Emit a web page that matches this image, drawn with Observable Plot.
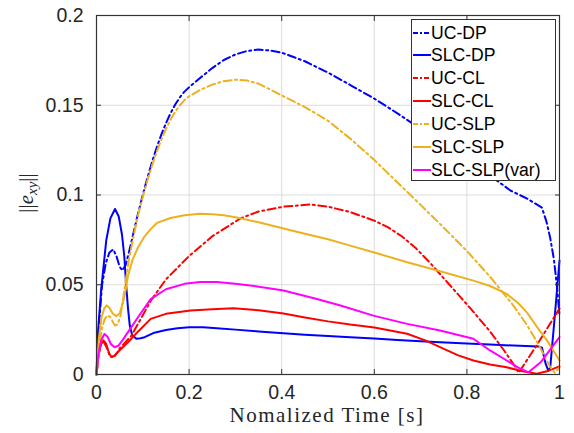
<!DOCTYPE html>
<html><head><meta charset="utf-8">
<script src="https://cdn.jsdelivr.net/npm/d3@7"></script>
<script src="https://cdn.jsdelivr.net/npm/@observablehq/plot@0.6"></script>
<style>
body{margin:0;background:#fff;}
#wrap{position:relative;width:574px;height:433px;}
#legend{position:absolute;left:411px;top:19px;width:145px;height:162px;border:1px solid #333;background:#fff;box-sizing:border-box;font-family:"Liberation Sans",Arial,sans-serif;font-size:17.6px;color:#000;}
.row{position:absolute;left:0;height:20px;line-height:20px;white-space:nowrap;}
.row svg{position:absolute;left:1px;top:0;}
.row span{position:absolute;left:19px;top:0;}
</style></head><body><div id="wrap"></div>
<script>
const seriesNames = ["UC-DP","SLC-DP","UC-CL","SLC-CL","UC-SLP","SLC-SLP","SLC-SLP(var)"];
const seriesColors = ["#0000ff","#0000ff","#ff0000","#ff0000","#edb120","#edb120","#ff00ff"];
const seriesDashed = [true,false,true,false,true,false,false];
const xTicks = [0,0.2,0.4,0.6,0.8,1];
const xTickLabels = ["0","0.2","0.4","0.6","0.8","1"];
const yTicks = [0,0.05,0.1,0.15,0.2];
const yTickLabels = ["0","0.05","0.1","0.15","0.2"];
const xLabel = "Nomalized Time [s]";

const ucDP = [[0,0],[0.006,0.03],[0.012,0.05],[0.02,0.062],[0.028,0.068],[0.036,0.0697],[0.043,0.066],[0.05,0.06],[0.056,0.058],[0.063,0.061],[0.07,0.068],[0.08,0.079],[0.09,0.09],[0.1,0.1],[0.11,0.1096],[0.12,0.1184],[0.13,0.1264],[0.14,0.1336],[0.15,0.14],[0.16,0.1456],[0.17,0.1504],[0.18,0.1544],[0.19,0.1576],[0.2,0.16],[0.225,0.1655],[0.25,0.1707],[0.275,0.1752],[0.3,0.1783],[0.325,0.1802],[0.35,0.181],[0.375,0.1805],[0.4,0.1793],[0.45,0.1745],[0.5,0.1682],[0.55,0.161],[0.6,0.1537],[0.65,0.1455],[0.7,0.1368],[0.75,0.128],[0.8,0.119],[0.865,0.108],[0.894,0.1025],[0.93,0.098],[0.962,0.093],[0.972,0.085],[0.98,0.076],[0.988,0.064],[0.995,0.048],[1.0,0.033]];
const slcDP = [[0,0],[0.003,0.023],[0.01,0.047],[0.021,0.0746],[0.03,0.087],[0.04,0.0922],[0.048,0.088],[0.055,0.078],[0.06,0.066],[0.064,0.05],[0.068,0.037],[0.072,0.027],[0.077,0.022],[0.086,0.0199],[0.095,0.0202],[0.104,0.0208],[0.125,0.0233],[0.15,0.0248],[0.175,0.0258],[0.2,0.0263],[0.23,0.0263],[0.26,0.0258],[0.3,0.025],[0.35,0.024],[0.404,0.023],[0.45,0.0222],[0.5,0.0214],[0.548,0.0208],[0.6,0.02],[0.65,0.0192],[0.7,0.0185],[0.742,0.018],[0.8,0.0173],[0.85,0.0167],[0.9,0.0161],[0.955,0.0156],[0.962,0.015],[0.97,0.006],[0.976,0.002],[0.98,0.004],[0.99,0.033],[1.0,0.0635]];
const ucCL = [[0,0],[0.005,0.012],[0.01,0.017],[0.016,0.018],[0.022,0.015],[0.028,0.011],[0.034,0.0098],[0.04,0.0105],[0.05,0.0145],[0.075,0.0215],[0.1,0.033],[0.117,0.041],[0.15,0.053],[0.2,0.066],[0.25,0.077],[0.311,0.087],[0.35,0.0908],[0.404,0.0935],[0.462,0.0947],[0.5,0.0935],[0.548,0.0905],[0.6,0.0857],[0.63,0.082],[0.66,0.0769],[0.69,0.0703],[0.72,0.0623],[0.76,0.0507],[0.8,0.0391],[0.85,0.024],[0.88,0.0135],[0.9,0.006],[0.912,0.001],[0.95,0.016],[1.0,0.0367]];
const slcCL = [[0,0],[0.004,0.01],[0.009,0.0165],[0.015,0.019],[0.021,0.017],[0.027,0.012],[0.032,0.0097],[0.039,0.0105],[0.05,0.0135],[0.068,0.018],[0.09,0.024],[0.117,0.031],[0.15,0.0338],[0.203,0.0356],[0.25,0.0364],[0.296,0.0369],[0.35,0.0358],[0.404,0.034],[0.45,0.0318],[0.5,0.0296],[0.548,0.0278],[0.6,0.0262],[0.671,0.0227],[0.71,0.019],[0.742,0.0152],[0.78,0.0108],[0.814,0.0078],[0.85,0.0056],[0.886,0.004],[0.92,0.0018],[0.951,0.0004],[0.975,0.002],[1.0,0.0045]];
const ucSLP = [[0,0],[0.006,0.015],[0.012,0.026],[0.018,0.031],[0.024,0.033],[0.03,0.032],[0.036,0.029],[0.04,0.0273],[0.046,0.028],[0.052,0.033],[0.058,0.043],[0.064,0.054],[0.07,0.064],[0.08,0.077],[0.09,0.089],[0.1,0.099],[0.11,0.1081],[0.12,0.1164],[0.13,0.124],[0.14,0.1308],[0.15,0.1368],[0.16,0.142],[0.17,0.1464],[0.18,0.15],[0.19,0.1529],[0.2,0.155],[0.225,0.1587],[0.25,0.1615],[0.275,0.1634],[0.3,0.1642],[0.325,0.1638],[0.35,0.162],[0.4,0.1555],[0.45,0.149],[0.5,0.1414],[0.55,0.131],[0.6,0.1195],[0.66,0.1045],[0.7,0.0945],[0.75,0.0818],[0.8,0.0688],[0.85,0.0545],[0.9,0.0385],[0.93,0.0275],[0.955,0.0165],[0.97,0.009],[0.98,0.004],[0.99,0.001],[1.0,0.004]];
const slcSLP = [[0,0],[0.005,0.02],[0.011,0.032],[0.017,0.037],[0.022,0.0385],[0.028,0.037],[0.035,0.034],[0.0425,0.0325],[0.05,0.034],[0.057,0.04],[0.063,0.047],[0.068,0.055],[0.078,0.064],[0.09,0.071],[0.104,0.077],[0.117,0.081],[0.131,0.0845],[0.16,0.0872],[0.19,0.0887],[0.224,0.0895],[0.25,0.0893],[0.275,0.0887],[0.3,0.0876],[0.35,0.0848],[0.404,0.0813],[0.45,0.0784],[0.5,0.0753],[0.548,0.0718],[0.6,0.068],[0.671,0.0625],[0.75,0.057],[0.814,0.0523],[0.85,0.0493],[0.886,0.0449],[0.91,0.04],[0.93,0.0345],[0.95,0.027],[0.973,0.019],[0.99,0.012],[1.0,0.0078]];
const slcSLPvar = [[0,0],[0.004,0.011],[0.01,0.019],[0.017,0.0226],[0.024,0.021],[0.031,0.017],[0.039,0.0152],[0.047,0.016],[0.056,0.019],[0.068,0.0236],[0.09,0.032],[0.117,0.042],[0.15,0.0475],[0.19,0.0505],[0.224,0.0515],[0.26,0.0515],[0.3,0.0505],[0.332,0.0496],[0.404,0.0468],[0.476,0.0421],[0.527,0.0384],[0.598,0.0328],[0.671,0.0282],[0.742,0.0245],[0.79,0.0215],[0.814,0.0199],[0.85,0.0134],[0.886,0.0078],[0.91,0.004],[0.933,0.0012],[0.96,0.007],[1.0,0.0208]];

const allSeries = [ucDP, slcDP, ucCL, slcCL, ucSLP, slcSLP, slcSLPvar];
const dashPattern = "8,3.5,2,3.5";

const lineMarks = allSeries.map((arr, i) => Plot.line(arr, {
  x: d => d[0], y: d => d[1],
  stroke: seriesColors[i], strokeWidth: 2,
  strokeDasharray: seriesDashed[i] ? dashPattern : null,
  strokeLinejoin: "round"
}));

const fmtX = d => xTickLabels[xTicks.indexOf(d)];
const fmtY = d => yTickLabels[yTicks.indexOf(d)];

const chart = Plot.plot({
  width: 574, height: 433,
  marginLeft: 96, marginRight: 15, marginTop: 15, marginBottom: 59,
  style: {fontFamily: "'Liberation Sans', Arial, sans-serif", fontSize: "19.5px", color: "#262626", background: "#fff"},
  x: {domain: [0, 1]},
  y: {domain: [0, 0.2]},
  marks: [
    Plot.gridX(xTicks, {stroke: "#dcdcdc", strokeOpacity: 1}),
    Plot.gridY(yTicks, {stroke: "#dcdcdc", strokeOpacity: 1}),
    ...lineMarks,
    Plot.axisX(xTicks, {anchor: "bottom", tickSize: -5, tickPadding: 16, tickFormat: fmtX, label: null, fontSize: 19.5, stroke: "#333"}),
    Plot.axisX(xTicks, {anchor: "top", tickSize: -5, tickFormat: () => "", label: null, stroke: "#333"}),
    Plot.axisY(yTicks, {anchor: "left", tickSize: -5, tickPadding: 18, tickFormat: fmtY, label: null, fontSize: 19.5, stroke: "#333"}),
    Plot.axisY(yTicks, {anchor: "right", tickSize: -5, tickFormat: () => "", label: null, stroke: "#333"}),
    Plot.frame({stroke: "#333", strokeWidth: 1.2})
  ]
});

const wrap = document.getElementById("wrap");
wrap.appendChild(chart);

const svg = d3.select(chart);
// x label
svg.append("text")
  .attr("x", 327).attr("y", 422)
  .attr("text-anchor", "middle")
  .attr("font-family", "'Liberation Serif', 'Times New Roman', serif")
  .attr("font-size", 21).attr("letter-spacing", "1.5px")
  .attr("fill", "#262626")
  .text(xLabel);
// y label
const yl = svg.append("text")
  .attr("transform", "translate(33,193) rotate(-90)")
  .attr("text-anchor", "middle")
  .attr("font-family", "'Liberation Serif', 'Times New Roman', serif")
  .attr("font-size", 21)
  .attr("fill", "#262626");
yl.append("tspan").text("||");
yl.append("tspan").attr("font-style", "italic").text("e");
yl.append("tspan").attr("font-style", "italic").attr("font-size", 15).attr("dy", 4).text("xy");
yl.append("tspan").attr("dy", -4).text("||");

// legend
const legend = document.createElement("div");
legend.id = "legend";
seriesNames.forEach((name, i) => {
  const row = document.createElement("div");
  row.className = "row";
  row.style.top = (2.5 + 22.9 * i) + "px";
  row.innerHTML = `<svg width="18" height="20"><line x1="0" y1="10" x2="18" y2="10" stroke="${seriesColors[i]}" stroke-width="2" ${seriesDashed[i] ? 'stroke-dasharray="5,2,2,2"' : ''}/></svg><span>${name}</span>`;
  legend.appendChild(row);
});
wrap.appendChild(legend);
</script></body></html>
